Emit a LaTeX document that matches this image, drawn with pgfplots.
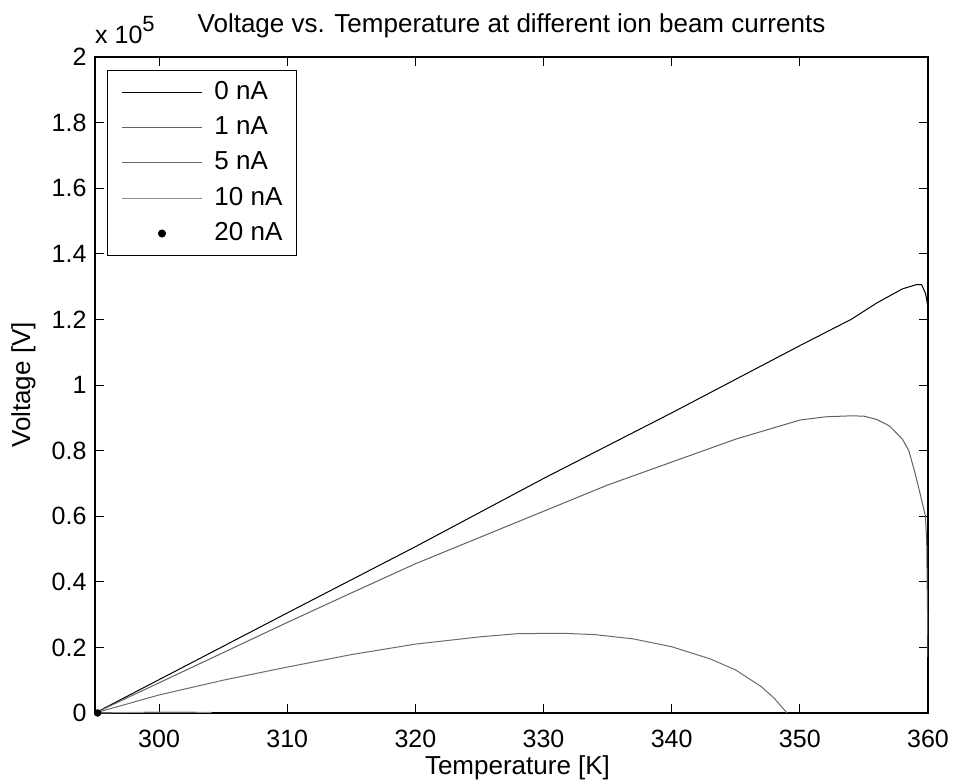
\documentclass[border=0pt]{standalone}
\usepackage{pgfplots}
\pgfplotsset{compat=1.18}
\usepackage{fontspec}
\setmainfont{Liberation Sans}
\begin{document}
\fontsize{25bp}{30bp}\selectfont
\begin{tikzpicture}
\begin{axis}[
  scale only axis,
  width=833bp, height=656bp,
  xmin=295, xmax=360, ymin=0, ymax=200000,
  xtick={300,310,...,360},
  ytick={0,20000,...,200000},
  scaled y ticks=base 10:-5,
  ytick scale label code/.code={x 10\raisebox{12bp}{\fontsize{22bp}{22bp}\selectfont #1}},
  every y tick scale label/.style={at={(rel axis cs:0,1)}, anchor=base west, yshift=13bp, inner sep=0pt},
  /pgf/number format/assume math mode=true,
  yticklabel style={/pgf/number format/fixed, /pgf/number format/precision=1},
  xticklabel style={anchor=base, yshift=-34bp},
  tick align=inside,
  major tick length=9bp,
  tick style={black, line width=0.8bp},
  axis line style={black, line width=1.3bp},
  title={Voltage vs. Temperature at different ion beam currents},
  title style={at={(axis description cs:0.5,1)}, anchor=base, yshift=19bp, font=\fontsize{26bp}{30bp}\selectfont},
  xlabel={Temperature [K]},
  ylabel={Voltage [V]},
  xlabel style={at={(axis description cs:0.5,0)}, anchor=base, yshift=-61bp, xshift=6bp, font=\fontsize{26bp}{30bp}\selectfont},
  ylabel style={at={(axis description cs:-0.078,0.5)}, anchor=base, font=\fontsize{26bp}{30bp}\selectfont},
  legend cell align=left,
  legend style={at={(rel axis cs:0,1)}, anchor=north west, xshift=12bp, yshift=-13bp,
    draw=black, line width=1bp, font=\fontsize{26bp}{30bp}\selectfont,
    inner xsep=14bp, inner ysep=11bp,
    nodes={inner sep=0pt},
    row sep=13.5bp, column sep=12bp},
  legend image code/.code={\draw[mark repeat=2, mark phase=2, #1] plot coordinates {(0bp,0bp) (40bp,0bp) (80bp,0bp)};},
]
\addplot[black, line width=1bp] coordinates {
(295,0) (310,0.305e5) (320,0.507e5) (330,0.715e5) (340,0.915e5) (350,1.12e5) (354,1.20e5)
(356,1.25e5) (358,1.293e5) (359.1,1.306e5) (359.5,1.306e5) (359.8,1.28e5) (359.9,1.26e5) (360,1.235e5)};
\addlegendentry{0 nA}
\addplot[black!62, line width=1bp] coordinates {
(295,0) (300,0.092e5) (305,0.184e5) (310,0.276e5) (315,0.366e5) (320,0.455e5) (325,0.535e5)
(330,0.615e5) (335,0.695e5) (340,0.765e5) (345,0.835e5) (350,0.893e5) (352,0.903e5) (354,0.906e5)
(355,0.905e5) (356,0.895e5) (357,0.875e5) (358,0.835e5) (358.5,0.80e5) (359,0.73e5) (359.5,0.65e5)
(359.8,0.60e5) (359.9,0.52e5) (360,0.17e5)};
\addlegendentry{1 nA}
\addplot[black!58, line width=1bp] coordinates {
(295,0) (300,0.055e5) (305,0.10e5) (310,0.14e5) (315,0.178e5) (320,0.21e5) (325,0.232e5)
(328,0.242e5) (331.5,0.243e5) (334,0.239e5) (337,0.226e5) (340,0.202e5) (343,0.165e5)
(345,0.131e5) (347,0.080e5) (348,0.045e5) (349,0)};
\addlegendentry{5 nA}
\addplot[black!45, line width=1bp] coordinates {(295,0) (300,0.003e5) (304.1,0.002e5)};
\addlegendentry{10 nA}
\addplot[only marks, mark=*, mark size=3.5bp, black] coordinates {(295.2,0)};
\addlegendentry{20 nA}
\coordinate (O) at (rel axis cs:0,0);
\end{axis}
\pgfresetboundingbox
\path[use as bounding box] ([xshift=-95bp,yshift=-71bp]O) rectangle ++(953bp,784bp);
\end{tikzpicture}
\end{document}
